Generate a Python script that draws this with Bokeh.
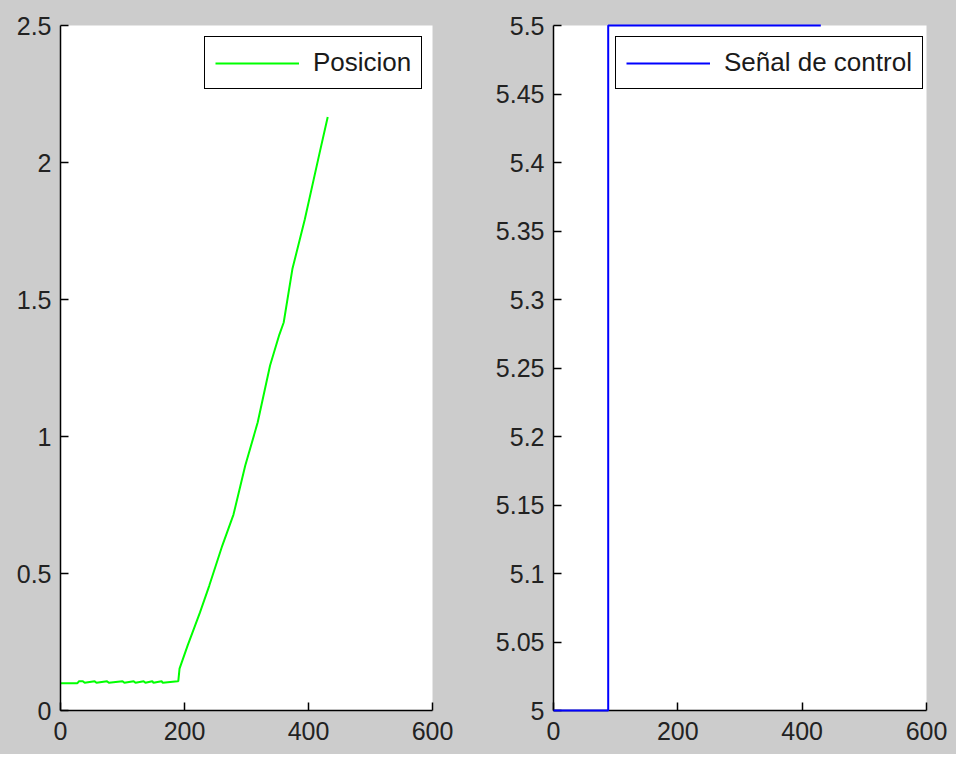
from bokeh.plotting import figure
from bokeh.models import Range1d, FixedTicker, Legend, LegendItem
from bokeh.layouts import row
from bokeh.embed import file_html
from bokeh.resources import INLINE

# ---- data: left panel (Posicion) ----
pos_t = [0, 27, 30, 36, 39, 55, 58, 75, 78, 100, 103, 118, 121, 134, 137, 148, 150, 163, 165, 189,
         190, 192, 205, 225, 240, 261, 279, 298, 318, 338, 353, 360, 374, 394, 418, 431]
pos_y = [0.099, 0.099, 0.107, 0.107, 0.101, 0.107, 0.101, 0.107, 0.101, 0.107, 0.101, 0.107, 0.101,
         0.107, 0.101, 0.107, 0.101, 0.107, 0.101, 0.107,
         0.107, 0.153, 0.237, 0.358, 0.456, 0.602, 0.715, 0.894, 1.051, 1.259, 1.372, 1.416, 1.611,
         1.792, 2.036, 2.166]

# ---- data: right panel (Señal de control) ----
ctrl_t = [0, 88, 88, 430]
ctrl_u = [5.0, 5.0, 5.5, 5.5]

left_yticks = [0, 0.5, 1, 1.5, 2, 2.5]
left_ylabels = ["0", "0.5", "1", "1.5", "2", "2.5"]
right_yticks = [5.0, 5.05, 5.1, 5.15, 5.2, 5.25, 5.3, 5.35, 5.4, 5.45, 5.5]
right_ylabels = ["5", "5.05", "5.1", "5.15", "5.2", "5.25", "5.3", "5.35", "5.4", "5.45", "5.5"]
xticks = [0, 200, 400, 600]
xlabels = ["0", "200", "400", "600"]

FONT = "Liberation Sans"
BG = "#cccccc"


def make_fig(width, bl, br, yr, yticks, ylabels):
    p = figure(width=width, height=754, title=None, output_backend="svg", toolbar_location=None,
               x_range=Range1d(0, 600), y_range=Range1d(*yr),
               min_border_left=bl, min_border_right=br, min_border_top=25, min_border_bottom=44)
    p.background_fill_color = "white"
    p.border_fill_color = BG
    p.outline_line_color = None
    p.grid.visible = False
    p.xaxis.ticker = FixedTicker(ticks=xticks)
    p.xaxis.major_label_overrides = dict(zip(xticks, xlabels))
    p.yaxis.ticker = FixedTicker(ticks=yticks)
    p.yaxis.major_label_overrides = dict(zip(yticks, ylabels))
    for ax in (p.xaxis[0], p.yaxis[0]):
        ax.major_tick_in = 8
        ax.major_tick_out = 0
        ax.minor_tick_line_color = None
        ax.axis_line_color = "black"
        ax.axis_line_width = 1.5
        ax.major_tick_line_color = "black"
        ax.major_tick_line_width = 1.5
        ax.major_label_text_font = FONT
        ax.major_label_text_font_size = "25px"
        ax.major_label_text_color = "#222222"
    p.xaxis.major_label_standoff = 11
    p.yaxis.major_label_standoff = 9
    return p


def add_legend(p, renderer, label, loc):
    leg = Legend(items=[LegendItem(label=label, renderers=[renderer])], location=loc)
    leg.label_text_font = FONT
    leg.label_text_font_size = "26px"
    leg.label_text_color = "#1a1a1a"
    leg.border_line_color = "black"
    leg.border_line_width = 1.5
    leg.border_line_alpha = 1
    leg.background_fill_color = "white"
    leg.background_fill_alpha = 1
    leg.padding = 10
    leg.glyph_width = 84
    leg.glyph_height = 26
    leg.label_height = 26
    leg.label_standoff = 14
    leg.spacing = 0
    leg.margin = 0
    p.add_layout(leg)


p1 = make_fig(478, 60, 46, (0, 2.5), left_yticks, left_ylabels)
r1 = p1.line(pos_t, pos_y, line_color="#00ff00", line_width=2)
add_legend(p1, r1, "Posicion", (144, 621))

p2 = make_fig(478, 75, 30, (5.0, 5.5), right_yticks, right_ylabels)
r2 = p2.line(ctrl_t, ctrl_u, line_color="#0000ff", line_width=2)
r2.level = "overlay"
add_legend(p2, r2, "Señal de control", (62, 621))

layout = row(p1, p2, spacing=0, styles={"background-color": BG})
open("out.html", "w").write(file_html(layout, INLINE))
